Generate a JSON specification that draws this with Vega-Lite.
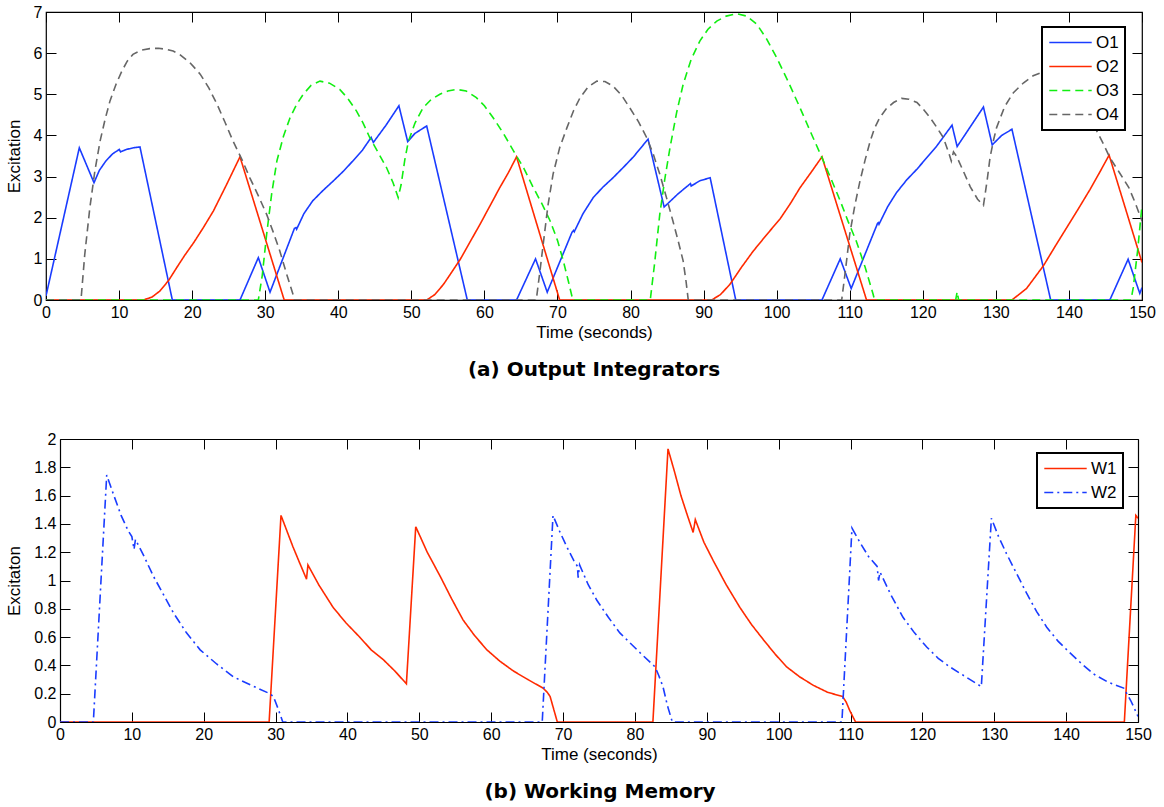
{
  "$schema": "https://vega.github.io/schema/vega-lite/v6.json",
  "background": "white",
  "padding": {"left": 4, "top": 3, "right": 2, "bottom": 2},
  "config": {
    "font": "Liberation Sans",
    "view": {"stroke": "black", "strokeWidth": 1.2},
    "axis": {"grid": false, "domain": false, "labelFlush": false, "labelOverlap": false, "tickSize": -10, "tickColor": "#000", "tickWidth": 1, "labelPadding": 14, "labelFont": "Liberation Sans", "labelFontSize": 16, "labelColor": "#000", "titleFont": "Liberation Sans", "titleFontSize": 17, "titleFontWeight": "normal", "titleColor": "#000"},
    "legend": {"title": null, "orient": "none", "labelFont": "Liberation Sans", "labelFontSize": 17, "labelColor": "#000", "strokeColor": "#000", "strokeWidth": 2, "fillColor": "white", "padding": 6, "clipHeight": 19, "rowPadding": 5, "symbolType": "stroke", "symbolSize": 1800, "symbolStrokeWidth": 1.6, "labelOffset": 3},
    "title": {"font": "DejaVu Sans", "fontSize": 20, "fontWeight": "bold", "color": "#000", "orient": "bottom", "frame": "group", "anchor": "middle", "offset": 20}
  },
  "columns": 1,
  "spacing": 50,
  "resolve": {"scale": {"x": "independent", "y": "independent", "color": "independent", "strokeDash": "independent"}, "legend": {"color": "independent", "strokeDash": "independent"}},
  "concat": [
    {
      "width": 1096,
      "height": 288,
      "title": {"text": "(a) Output Integrators"},
      "data": {"values": [
        {"s":"O1","t":0,"v":0.1},{"s":"O1","t":4.56,"v":3.7},{"s":"O1","t":6.57,"v":2.85},{"s":"O1","t":7.3,"v":3.15},{"s":"O1","t":8.2,"v":3.38},{"s":"O1","t":9.1,"v":3.55},{"s":"O1","t":10.03,"v":3.66},{"s":"O1","t":10.2,"v":3.6},{"s":"O1","t":11,"v":3.66},{"s":"O1","t":12,"v":3.7},{"s":"O1","t":12.86,"v":3.72},{"s":"O1","t":17.29,"v":0},{"s":"O1","t":26.55,"v":0},{"s":"O1","t":29.06,"v":1.03},{"s":"O1","t":30.66,"v":0.19},{"s":"O1","t":34.0,"v":1.74},{"s":"O1","t":34.2,"v":1.76},{"s":"O1","t":34.3,"v":1.72},{"s":"O1","t":35.3,"v":2.1},{"s":"O1","t":36.5,"v":2.41},{"s":"O1","t":37.9,"v":2.66},{"s":"O1","t":39.3,"v":2.89},{"s":"O1","t":40.7,"v":3.13},{"s":"O1","t":42.0,"v":3.38},{"s":"O1","t":43.3,"v":3.64},{"s":"O1","t":44.5,"v":3.95},{"s":"O1","t":44.8,"v":3.83},{"s":"O1","t":46.5,"v":4.24},{"s":"O1","t":48.3,"v":4.72},{"s":"O1","t":49.5,"v":3.85},{"s":"O1","t":50.5,"v":4.05},{"s":"O1","t":52.1,"v":4.23},{"s":"O1","t":57.66,"v":0},{"s":"O1","t":64.4,"v":0},{"s":"O1","t":67.0,"v":1.0},{"s":"O1","t":68.6,"v":0.19},{"s":"O1","t":72.0,"v":1.65},{"s":"O1","t":72.2,"v":1.69},{"s":"O1","t":72.3,"v":1.66},{"s":"O1","t":73.5,"v":2.1},{"s":"O1","t":74.9,"v":2.49},{"s":"O1","t":76.2,"v":2.74},{"s":"O1","t":77.6,"v":2.97},{"s":"O1","t":79.0,"v":3.22},{"s":"O1","t":80.4,"v":3.48},{"s":"O1","t":82.4,"v":3.91},{"s":"O1","t":84.6,"v":2.26},{"s":"O1","t":86.5,"v":2.58},{"s":"O1","t":88.2,"v":2.83},{"s":"O1","t":88.3,"v":2.77},{"s":"O1","t":89.5,"v":2.9},{"s":"O1","t":90.9,"v":2.97},{"s":"O1","t":94.4,"v":0},{"s":"O1","t":106.2,"v":0},{"s":"O1","t":108.7,"v":1.0},{"s":"O1","t":110.2,"v":0.28},{"s":"O1","t":113.8,"v":1.86},{"s":"O1","t":113.9,"v":1.88},{"s":"O1","t":114.0,"v":1.84},{"s":"O1","t":115.2,"v":2.27},{"s":"O1","t":116.4,"v":2.61},{"s":"O1","t":117.8,"v":2.92},{"s":"O1","t":119.2,"v":3.18},{"s":"O1","t":120.5,"v":3.45},{"s":"O1","t":121.9,"v":3.74},{"s":"O1","t":124.0,"v":4.25},{"s":"O1","t":124.7,"v":3.73},{"s":"O1","t":128.3,"v":4.69},{"s":"O1","t":129.5,"v":3.77},{"s":"O1","t":130.8,"v":4.0},{"s":"O1","t":132.2,"v":4.15},{"s":"O1","t":137.5,"v":0},{"s":"O1","t":145.6,"v":0},{"s":"O1","t":148.1,"v":0.99},{"s":"O1","t":149.7,"v":0.16},{"s":"O1","t":150,"v":0.3},
        {"s":"O2","t":0,"v":0},{"s":"O2","t":13.3,"v":0},{"s":"O2","t":14.5,"v":0.07},{"s":"O2","t":15.6,"v":0.22},{"s":"O2","t":16.8,"v":0.48},{"s":"O2","t":17.9,"v":0.79},{"s":"O2","t":19.0,"v":1.09},{"s":"O2","t":20.2,"v":1.39},{"s":"O2","t":21.5,"v":1.75},{"s":"O2","t":22.9,"v":2.16},{"s":"O2","t":24.7,"v":2.8},{"s":"O2","t":26.55,"v":3.48},{"s":"O2","t":32.6,"v":0},{"s":"O2","t":52.1,"v":0},{"s":"O2","t":53.2,"v":0.13},{"s":"O2","t":54.4,"v":0.38},{"s":"O2","t":55.5,"v":0.67},{"s":"O2","t":56.7,"v":0.99},{"s":"O2","t":58.0,"v":1.4},{"s":"O2","t":59.4,"v":1.84},{"s":"O2","t":60.8,"v":2.3},{"s":"O2","t":62.1,"v":2.73},{"s":"O2","t":63.3,"v":3.1},{"s":"O2","t":64.4,"v":3.48},{"s":"O2","t":70.3,"v":0},{"s":"O2","t":91.1,"v":0},{"s":"O2","t":92.3,"v":0.13},{"s":"O2","t":93.6,"v":0.38},{"s":"O2","t":95.2,"v":0.8},{"s":"O2","t":96.8,"v":1.19},{"s":"O2","t":98.6,"v":1.58},{"s":"O2","t":100.5,"v":1.98},{"s":"O2","t":101.9,"v":2.35},{"s":"O2","t":103.2,"v":2.73},{"s":"O2","t":104.7,"v":3.1},{"s":"O2","t":106.2,"v":3.48},{"s":"O2","t":112.3,"v":0},{"s":"O2","t":132.2,"v":0},{"s":"O2","t":134.2,"v":0.28},{"s":"O2","t":136.5,"v":0.83},{"s":"O2","t":138.1,"v":1.3},{"s":"O2","t":139.7,"v":1.76},{"s":"O2","t":141.3,"v":2.22},{"s":"O2","t":142.9,"v":2.69},{"s":"O2","t":144.2,"v":3.1},{"s":"O2","t":145.5,"v":3.52},{"s":"O2","t":150,"v":0.91},
        {"s":"O3","t":0,"v":0},{"s":"O3","t":29.06,"v":0},{"s":"O3","t":29.6,"v":0.6},{"s":"O3","t":30.2,"v":1.6},{"s":"O3","t":30.9,"v":2.6},{"s":"O3","t":31.6,"v":3.38},{"s":"O3","t":32.5,"v":3.98},{"s":"O3","t":33.4,"v":4.43},{"s":"O3","t":34.3,"v":4.75},{"s":"O3","t":35.2,"v":5.0},{"s":"O3","t":36.3,"v":5.22},{"s":"O3","t":37.5,"v":5.32},{"s":"O3","t":38.8,"v":5.27},{"s":"O3","t":40.2,"v":5.12},{"s":"O3","t":41.3,"v":4.9},{"s":"O3","t":42.5,"v":4.59},{"s":"O3","t":43.4,"v":4.3},{"s":"O3","t":44.3,"v":3.95},{"s":"O3","t":45.5,"v":3.57},{"s":"O3","t":46.6,"v":3.22},{"s":"O3","t":47.5,"v":2.85},{"s":"O3","t":48.2,"v":2.49},{"s":"O3","t":48.6,"v":2.8},{"s":"O3","t":49.1,"v":3.4},{"s":"O3","t":49.6,"v":3.86},{"s":"O3","t":50.5,"v":4.3},{"s":"O3","t":51.6,"v":4.67},{"s":"O3","t":52.7,"v":4.87},{"s":"O3","t":53.9,"v":5.0},{"s":"O3","t":55.0,"v":5.08},{"s":"O3","t":56.2,"v":5.12},{"s":"O3","t":57.5,"v":5.08},{"s":"O3","t":58.9,"v":4.92},{"s":"O3","t":60.0,"v":4.72},{"s":"O3","t":61.2,"v":4.43},{"s":"O3","t":62.6,"v":4.05},{"s":"O3","t":64.0,"v":3.62},{"s":"O3","t":65.4,"v":3.2},{"s":"O3","t":66.7,"v":2.73},{"s":"O3","t":67.9,"v":2.33},{"s":"O3","t":69.0,"v":1.92},{"s":"O3","t":70.0,"v":1.45},{"s":"O3","t":70.8,"v":0.95},{"s":"O3","t":71.5,"v":0.45},{"s":"O3","t":72.1,"v":0},{"s":"O3","t":82.7,"v":0},{"s":"O3","t":83.3,"v":0.9},{"s":"O3","t":84.0,"v":2.08},{"s":"O3","t":84.7,"v":2.95},{"s":"O3","t":85.4,"v":3.7},{"s":"O3","t":86.3,"v":4.55},{"s":"O3","t":87.2,"v":5.24},{"s":"O3","t":88.3,"v":5.85},{"s":"O3","t":89.5,"v":6.3},{"s":"O3","t":90.6,"v":6.58},{"s":"O3","t":91.8,"v":6.78},{"s":"O3","t":93.1,"v":6.9},{"s":"O3","t":94.5,"v":6.96},{"s":"O3","t":95.9,"v":6.9},{"s":"O3","t":97.3,"v":6.7},{"s":"O3","t":98.6,"v":6.35},{"s":"O3","t":100.0,"v":5.89},{"s":"O3","t":101.6,"v":5.3},{"s":"O3","t":103.2,"v":4.67},{"s":"O3","t":104.7,"v":4.06},{"s":"O3","t":106.2,"v":3.46},{"s":"O3","t":107.5,"v":2.92},{"s":"O3","t":108.7,"v":2.41},{"s":"O3","t":109.8,"v":1.9},{"s":"O3","t":110.9,"v":1.43},{"s":"O3","t":112.1,"v":0.8},{"s":"O3","t":113.2,"v":0.14},{"s":"O3","t":113.4,"v":0},{"s":"O3","t":124.5,"v":0},{"s":"O3","t":124.7,"v":0.2},{"s":"O3","t":124.9,"v":0},{"s":"O3","t":148.5,"v":0},{"s":"O3","t":148.8,"v":0.3},{"s":"O3","t":149.4,"v":1.2},{"s":"O3","t":150,"v":2.3},
        {"s":"O4","t":0,"v":0},{"s":"O4","t":4.79,"v":0},{"s":"O4","t":5.3,"v":1.1},{"s":"O4","t":6.0,"v":2.24},{"s":"O4","t":6.7,"v":3.15},{"s":"O4","t":7.4,"v":3.86},{"s":"O4","t":8.1,"v":4.4},{"s":"O4","t":8.76,"v":4.84},{"s":"O4","t":9.6,"v":5.25},{"s":"O4","t":10.4,"v":5.57},{"s":"O4","t":11.1,"v":5.8},{"s":"O4","t":11.9,"v":5.97},{"s":"O4","t":13.0,"v":6.07},{"s":"O4","t":14.2,"v":6.11},{"s":"O4","t":15.4,"v":6.12},{"s":"O4","t":16.5,"v":6.09},{"s":"O4","t":17.4,"v":6.05},{"s":"O4","t":18.3,"v":5.97},{"s":"O4","t":19.7,"v":5.77},{"s":"O4","t":21.1,"v":5.49},{"s":"O4","t":22.3,"v":5.15},{"s":"O4","t":23.4,"v":4.76},{"s":"O4","t":24.5,"v":4.32},{"s":"O4","t":25.6,"v":3.86},{"s":"O4","t":26.8,"v":3.42},{"s":"O4","t":27.9,"v":2.97},{"s":"O4","t":29.1,"v":2.52},{"s":"O4","t":30.2,"v":2.08},{"s":"O4","t":31.1,"v":1.65},{"s":"O4","t":32.0,"v":1.19},{"s":"O4","t":32.9,"v":0.65},{"s":"O4","t":33.8,"v":0.14},{"s":"O4","t":34.0,"v":0},{"s":"O4","t":67.1,"v":0},{"s":"O4","t":67.6,"v":0.7},{"s":"O4","t":68.1,"v":1.43},{"s":"O4","t":68.7,"v":2.3},{"s":"O4","t":69.4,"v":3.06},{"s":"O4","t":70.3,"v":3.7},{"s":"O4","t":71.3,"v":4.19},{"s":"O4","t":72.2,"v":4.6},{"s":"O4","t":73.1,"v":4.92},{"s":"O4","t":74.2,"v":5.18},{"s":"O4","t":75.4,"v":5.32},{"s":"O4","t":76.5,"v":5.31},{"s":"O4","t":77.6,"v":5.2},{"s":"O4","t":78.8,"v":4.97},{"s":"O4","t":79.9,"v":4.67},{"s":"O4","t":81.1,"v":4.33},{"s":"O4","t":82.2,"v":3.95},{"s":"O4","t":83.1,"v":3.55},{"s":"O4","t":84.0,"v":3.06},{"s":"O4","t":84.9,"v":2.5},{"s":"O4","t":85.8,"v":1.92},{"s":"O4","t":86.5,"v":1.45},{"s":"O4","t":87.2,"v":0.95},{"s":"O4","t":87.6,"v":0.45},{"s":"O4","t":87.9,"v":0},{"s":"O4","t":108.9,"v":0},{"s":"O4","t":109.4,"v":0.7},{"s":"O4","t":110.0,"v":1.6},{"s":"O4","t":110.7,"v":2.3},{"s":"O4","t":111.4,"v":2.89},{"s":"O4","t":112.1,"v":3.4},{"s":"O4","t":112.8,"v":3.86},{"s":"O4","t":113.4,"v":4.18},{"s":"O4","t":114.1,"v":4.43},{"s":"O4","t":115.0,"v":4.65},{"s":"O4","t":116.0,"v":4.8},{"s":"O4","t":117.1,"v":4.9},{"s":"O4","t":118.1,"v":4.88},{"s":"O4","t":119.2,"v":4.8},{"s":"O4","t":120.1,"v":4.63},{"s":"O4","t":121.0,"v":4.43},{"s":"O4","t":121.9,"v":4.2},{"s":"O4","t":122.8,"v":3.95},{"s":"O4","t":123.6,"v":3.55},{"s":"O4","t":123.9,"v":3.38},{"s":"O4","t":124.2,"v":3.6},{"s":"O4","t":124.6,"v":3.5},{"s":"O4","t":125.5,"v":3.15},{"s":"O4","t":126.5,"v":2.75},{"s":"O4","t":127.5,"v":2.45},{"s":"O4","t":128.3,"v":2.3},{"s":"O4","t":128.8,"v":2.9},{"s":"O4","t":129.2,"v":3.46},{"s":"O4","t":129.7,"v":3.9},{"s":"O4","t":130.1,"v":4.19},{"s":"O4","t":131.2,"v":4.7},{"s":"O4","t":132.4,"v":5.04},{"s":"O4","t":133.8,"v":5.28},{"s":"O4","t":135.1,"v":5.45},{"s":"O4","t":136.5,"v":5.55},{"s":"O4","t":138.0,"v":5.55},{"s":"O4","t":139.5,"v":5.4},{"s":"O4","t":141.0,"v":5.1},{"s":"O4","t":142.5,"v":4.65},{"s":"O4","t":143.8,"v":4.11},{"s":"O4","t":144.7,"v":3.8},{"s":"O4","t":145.6,"v":3.46},{"s":"O4","t":146.9,"v":3.1},{"s":"O4","t":148.2,"v":2.73},{"s":"O4","t":149.1,"v":2.35},{"s":"O4","t":150,"v":1.92}
      ]},
      "layer": [
        {
          "mark": {"type": "line", "strokeWidth": 1.6, "clip": true},
          "encoding": {
            "x": {"field": "t", "type": "quantitative", "scale": {"domain": [0, 150], "nice": false}, "axis": {"orient": "bottom", "values": [0,10,20,30,40,50,60,70,80,90,100,110,120,130,140,150], "title": "Time (seconds)", "titlePadding": 4}},
            "y": {"field": "v", "type": "quantitative", "scale": {"domain": [0, 7], "nice": false}, "axis": {"orient": "left", "values": [0,1,2,3,4,5,6,7], "title": "Excitation", "titlePadding": 10}},
            "color": {"field": "s", "type": "nominal", "scale": {"domain": ["O1","O2","O3","O4"], "range": ["#1a3cff","#ff2a00","#11ee11","#666666"]}, "legend": {"legendX": 996, "legendY": 15}},
            "strokeDash": {"field": "s", "type": "nominal", "scale": {"domain": ["O1","O2","O3","O4"], "range": [[1,0],[1,0],[8,5],[8,5]]}, "legend": {"legendX": 996, "legendY": 15}}
          }
        },
        {
          "mark": {"type": "point", "opacity": 0},
          "encoding": {
            "x": {"field": "t", "type": "quantitative", "axis": {"orient": "top", "values": [0,10,20,30,40,50,60,70,80,90,100,110,120,130,140,150], "labels": false, "title": null}},
            "y": {"field": "v", "type": "quantitative", "axis": {"orient": "right", "values": [0,1,2,3,4,5,6,7], "labels": false, "title": null}}
          }
        }
      ]
    },
    {
      "width": 1092,
      "height": 283,
      "view": {"stroke": null},
      "title": {"text": "(b) Working Memory", "dx": 8},
      "data": {"values": [
        {"s":"W1","t":0,"v":0},{"s":"W1","t":29.1,"v":0},{"s":"W1","t":30.75,"v":1.46},{"s":"W1","t":31.5,"v":1.36},{"s":"W1","t":32.4,"v":1.24},{"s":"W1","t":33.3,"v":1.13},{"s":"W1","t":34.3,"v":1.01},{"s":"W1","t":34.5,"v":1.11},{"s":"W1","t":36.0,"v":0.97},{"s":"W1","t":38.0,"v":0.81},{"s":"W1","t":39.8,"v":0.7},{"s":"W1","t":41.7,"v":0.6},{"s":"W1","t":43.3,"v":0.51},{"s":"W1","t":45.0,"v":0.44},{"s":"W1","t":46.6,"v":0.36},{"s":"W1","t":48.2,"v":0.27},{"s":"W1","t":49.5,"v":1.38},{"s":"W1","t":51.1,"v":1.2},{"s":"W1","t":52.9,"v":1.03},{"s":"W1","t":54.5,"v":0.87},{"s":"W1","t":56.1,"v":0.72},{"s":"W1","t":57.7,"v":0.61},{"s":"W1","t":59.4,"v":0.51},{"s":"W1","t":61.2,"v":0.43},{"s":"W1","t":63.1,"v":0.36},{"s":"W1","t":65.1,"v":0.3},{"s":"W1","t":67.2,"v":0.24},{"s":"W1","t":67.8,"v":0.21},{"s":"W1","t":68.2,"v":0.18},{"s":"W1","t":68.7,"v":0.09},{"s":"W1","t":69.2,"v":0},{"s":"W1","t":82.5,"v":0},{"s":"W1","t":84.6,"v":1.93},{"s":"W1","t":85.5,"v":1.77},{"s":"W1","t":86.4,"v":1.6},{"s":"W1","t":87.3,"v":1.46},{"s":"W1","t":88.1,"v":1.34},{"s":"W1","t":88.4,"v":1.43},{"s":"W1","t":89.6,"v":1.27},{"s":"W1","t":90.9,"v":1.14},{"s":"W1","t":92.7,"v":0.97},{"s":"W1","t":94.6,"v":0.81},{"s":"W1","t":96.2,"v":0.69},{"s":"W1","t":97.9,"v":0.58},{"s":"W1","t":99.5,"v":0.48},{"s":"W1","t":101.1,"v":0.39},{"s":"W1","t":102.9,"v":0.32},{"s":"W1","t":104.8,"v":0.26},{"s":"W1","t":106.8,"v":0.21},{"s":"W1","t":108.9,"v":0.18},{"s":"W1","t":109.4,"v":0.14},{"s":"W1","t":109.9,"v":0.08},{"s":"W1","t":110.7,"v":0},{"s":"W1","t":148.1,"v":0},{"s":"W1","t":149.7,"v":1.46},{"s":"W1","t":150,"v":1.44},
        {"s":"W2","t":0,"v":0},{"s":"W2","t":4.64,"v":0},{"s":"W2","t":6.5,"v":1.745},{"s":"W2","t":7.5,"v":1.6},{"s":"W2","t":8.5,"v":1.46},{"s":"W2","t":9.5,"v":1.35},{"s":"W2","t":10.0,"v":1.31},{"s":"W2","t":10.3,"v":1.22},{"s":"W2","t":10.5,"v":1.29},{"s":"W2","t":11.7,"v":1.17},{"s":"W2","t":13.0,"v":1.03},{"s":"W2","t":14.4,"v":0.9},{"s":"W2","t":15.8,"v":0.77},{"s":"W2","t":17.6,"v":0.63},{"s":"W2","t":19.5,"v":0.51},{"s":"W2","t":21.8,"v":0.41},{"s":"W2","t":24.1,"v":0.32},{"s":"W2","t":26.6,"v":0.26},{"s":"W2","t":29.2,"v":0.2},{"s":"W2","t":29.7,"v":0.18},{"s":"W2","t":30.3,"v":0.1},{"s":"W2","t":31.0,"v":0},{"s":"W2","t":67.1,"v":0},{"s":"W2","t":68.6,"v":1.46},{"s":"W2","t":69.5,"v":1.35},{"s":"W2","t":70.5,"v":1.24},{"s":"W2","t":71.5,"v":1.14},{"s":"W2","t":72.0,"v":1.1},{"s":"W2","t":72.1,"v":1.02},{"s":"W2","t":72.3,"v":1.11},{"s":"W2","t":73.5,"v":0.97},{"s":"W2","t":74.7,"v":0.86},{"s":"W2","t":76.3,"v":0.74},{"s":"W2","t":77.9,"v":0.63},{"s":"W2","t":79.3,"v":0.56},{"s":"W2","t":80.7,"v":0.49},{"s":"W2","t":82.8,"v":0.39},{"s":"W2","t":83.3,"v":0.33},{"s":"W2","t":83.9,"v":0.25},{"s":"W2","t":84.5,"v":0.12},{"s":"W2","t":85.2,"v":0},{"s":"W2","t":108.8,"v":0},{"s":"W2","t":110.2,"v":1.37},{"s":"W2","t":111.3,"v":1.27},{"s":"W2","t":112.5,"v":1.17},{"s":"W2","t":113.7,"v":1.1},{"s":"W2","t":113.9,"v":1.0},{"s":"W2","t":114.1,"v":1.06},{"s":"W2","t":115.6,"v":0.9},{"s":"W2","t":117.3,"v":0.74},{"s":"W2","t":118.9,"v":0.63},{"s":"W2","t":120.6,"v":0.53},{"s":"W2","t":122.2,"v":0.45},{"s":"W2","t":123.8,"v":0.39},{"s":"W2","t":126.0,"v":0.32},{"s":"W2","t":128.2,"v":0.25},{"s":"W2","t":129.6,"v":1.44},{"s":"W2","t":130.6,"v":1.31},{"s":"W2","t":131.7,"v":1.19},{"s":"W2","t":133.1,"v":1.05},{"s":"W2","t":134.5,"v":0.91},{"s":"W2","t":135.9,"v":0.78},{"s":"W2","t":137.3,"v":0.67},{"s":"W2","t":138.9,"v":0.57},{"s":"W2","t":140.5,"v":0.49},{"s":"W2","t":142.2,"v":0.41},{"s":"W2","t":143.8,"v":0.34},{"s":"W2","t":145.9,"v":0.28},{"s":"W2","t":148.0,"v":0.24},{"s":"W2","t":149.0,"v":0.15},{"s":"W2","t":150,"v":0.04}
      ]},
      "layer": [
        {
          "mark": {"type": "line", "strokeWidth": 1.6, "clip": true},
          "encoding": {
            "x": {"field": "t", "type": "quantitative", "scale": {"domain": [0, 150], "nice": false, "range": [14, 1092]}, "axis": {"orient": "bottom", "domain": true, "domainColor": "#000", "domainWidth": 1.2, "values": [0,10,20,30,40,50,60,70,80,90,100,110,120,130,140,150], "title": "Time (seconds)", "titlePadding": 4}},
            "y": {"field": "v", "type": "quantitative", "scale": {"domain": [0, 2], "nice": false}, "axis": {"orient": "left", "offset": -14, "domain": true, "domainColor": "#000", "domainWidth": 1.2, "values": [0,0.2,0.4,0.6,0.8,1,1.2,1.4,1.6,1.8,2], "format": "~g", "title": "Excitaton", "titlePadding": 10}},
            "color": {"field": "s", "type": "nominal", "scale": {"domain": ["W1","W2"], "range": ["#ff2a00","#1a3cff"]}, "legend": {"legendX": 991, "legendY": 14}},
            "strokeDash": {"field": "s", "type": "nominal", "scale": {"domain": ["W1","W2"], "range": [[1,0],[9,4,2,4]]}, "legend": {"legendX": 991, "legendY": 14}}
          }
        },
        {
          "mark": {"type": "point", "opacity": 0},
          "encoding": {
            "x": {"field": "t", "type": "quantitative", "axis": {"orient": "top", "domain": true, "domainColor": "#000", "domainWidth": 1.2, "values": [0,10,20,30,40,50,60,70,80,90,100,110,120,130,140,150], "labels": false, "title": null}},
            "y": {"field": "v", "type": "quantitative", "axis": {"orient": "right", "domain": true, "domainColor": "#000", "domainWidth": 1.2, "values": [0,0.2,0.4,0.6,0.8,1,1.2,1.4,1.6,1.8,2], "labels": false, "title": null}}
          }
        }
      ]
    }
  ]
}
